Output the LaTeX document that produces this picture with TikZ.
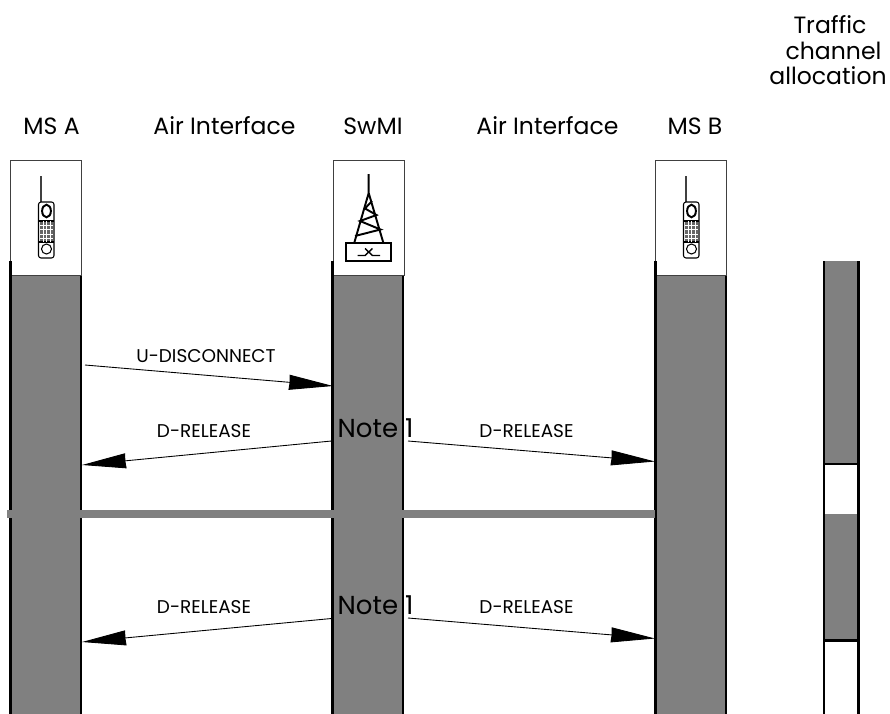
\documentclass[tikz,border=0pt]{standalone}
\usepackage{fontspec}
\setmainfont{Poppins}
\usetikzlibrary{arrows.meta}
\definecolor{bargray}{gray}{0.5}
\tikzset{
  lifebar/.style={fill=bargray, minimum width=1.42cm, minimum height=8.8cm, inner sep=0pt},
  iconbox/.style={draw=black!75, fill=white, line width=0.5pt, minimum width=1.42cm, minimum height=2.3cm, inner sep=0pt},
  sideline/.style={line width=1.5pt},
  msg/.style={line width=0.5pt, -{Stealth[length=0.88cm, width=0.3cm, inset=0.01cm]}},
  msglabel/.style={font=\fontsize{10.5}{12}\selectfont, inner sep=0pt},
  head/.style={font=\fontsize{13.4}{13}\selectfont, inner sep=0pt},
  note/.style={font=\fontsize{14.8}{16}\selectfont, inner sep=0pt},
  msphone/.pic={
    \fill[black!75] (40,176) rectangle (41.8,202);
    \draw[line width=0.6pt, rounded corners=0.05cm] (38.5,202) rectangle (54,258);
    \draw[line width=1.1pt] (46.5,211) ellipse (4.4 and 6.3);
    \fill[black!60] (40,221) rectangle (53,242);
    \draw[line width=0.8pt] (38.5,221) -- (54,221) (38.5,242) -- (54,242);
    \draw[white, line width=0.3pt] (43.2,221) -- (43.2,242) (46.5,221) -- (46.5,242) (49.8,221) -- (49.8,242)
      (40,225) -- (53,225) (40,229.5) -- (53,229.5) (40,234) -- (53,234) (40,238) -- (53,238);
    \draw[line width=0.6pt] (46.5,249) circle (5);
  },
  swmimast/.pic={
    \draw[line width=1.1pt] (368.7,174) -- (368.7,193) -- (354.3,242.7) (368.7,193) -- (383.3,242.7);
    \draw[line width=1.1pt] (355,236) -- (380.5,229.5) -- (360,221) -- (376.5,215) -- (365,208.5) -- (372,201);
    \draw[line width=1.1pt] (346,242.7) rectangle (391.3,260.7);
    \draw[line width=0.8pt] (357.5,255.5) -- (365,255.5) -- (372.5,248.5) (365,248.5) -- (372.5,255.5) -- (380,255.5);
  }
}
\begin{document}
\begin{tikzpicture}[x=0.02cm, y=-0.02cm]
  \useasboundingbox (0,0) rectangle (890,714);
  \node[lifebar] (barA) at (46,495) {};
  \node[lifebar] (barS) at (368,495) {};
  \node[lifebar] (barB) at (691,495) {};
  \node[iconbox] (boxA) at (46,217.5) {};
  \node[iconbox] (boxS) at (368.5,217.5) {};
  \node[iconbox] (boxB) at (691,217.5) {};
  \draw[sideline] (10.5,261) -- (10.5,714) (81,276) -- (81,714);
  \draw[sideline] (332.5,261) -- (332.5,714) (403,276) -- (403,714);
  \draw[sideline] (655.5,261) -- (655.5,714) (726,276) -- (726,714);
  \pic {msphone};
  \pic at (645,0) {msphone};
  \pic {swmimast};

  \fill[bargray] (825,261) rectangle (858,463);
  \fill[bargray] (825,514) rectangle (858,640);
  \draw[sideline] (824,261) -- (824,714) (858.5,261) -- (858.5,714);
  \draw[line width=1.2pt] (824,464) -- (858.5,464) (824,640.5) -- (858.5,640.5);

  \fill[bargray] (7,510) rectangle (655,518);

  \coordinate (discA) at (85,365);
  \coordinate (discS) at (333,386);
  \coordinate (relSa) at (331.5,441);
  \coordinate (relA) at (82,465);
  \coordinate (relSb) at (408,441);
  \coordinate (relB) at (655,461.5);
  \coordinate (endSa) at (331.5,618.5);
  \coordinate (endA) at (82,642);
  \coordinate (endSb) at (408,618);
  \coordinate (endB) at (655,638.5);
  \draw[msg] (discA) -- (discS);
  \draw[msg] (relSa) -- (relA);
  \draw[msg] (relSb) -- (relB);
  \draw[msg] (endSa) -- (endA);
  \draw[msg] (endSb) -- (endB);

  \node[head] (nameA) at (51.5,126) {MS A};
  \node[head] (airA) at (224.5,126) {Air Interface};
  \node[head] (nameS) at (373,126) {SwMI};
  \node[head] (airB) at (547.5,126) {Air Interface};
  \node[head] (nameB) at (695,126) {MS B};
  \node[head] (trafficA) at (830,25) {Traffic};
  \node[head] (trafficB) at (833.5,51) {channel};
  \node[head] (trafficC) at (828,76) {allocation};
  \node[msglabel] (labDisc) at (206,356) {U-DISCONNECT};
  \node[msglabel] (labRelA) at (204,431) {D-RELEASE};
  \node[msglabel] (labRelB) at (526.5,431) {D-RELEASE};
  \node[msglabel] (labEndA) at (204,607) {D-RELEASE};
  \node[msglabel] (labEndB) at (526.5,607) {D-RELEASE};
  \node[note] (noteA) at (375.5,428) {Note 1};
  \node[note] (noteB) at (375.5,605) {Note 1};
\end{tikzpicture}
\end{document}
